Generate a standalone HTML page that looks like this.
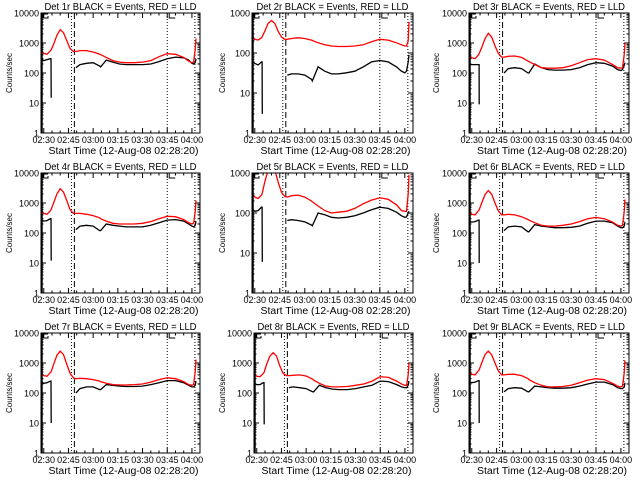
<!DOCTYPE html>
<html><head><meta charset="utf-8"><style>
html,body{margin:0;padding:0;background:#fff;}
svg{display:block;font-family:"Liberation Sans",sans-serif;}
</style></head><body>
<svg id="chart" width="640" height="480" viewBox="0 0 640 480" xmlns="http://www.w3.org/2000/svg">
<rect width="640" height="480" fill="#fff"/>
</svg>
<script>
// shared time grid (minutes since 02:30)
var times = [-1.7,0,2,4,4.4,4.5,6,8,10,12,14,16,18,19.5,22,26,30,34,34.5,38,42,46,50,55,60,65,70,75,80,85,88,90,91,92,92.5];
var xTickLabels = ["02:30","02:45","03:00","03:15","03:30","03:45","04:00"];
var xTickMinutes = [0,15,30,45,60,75,90];
var N = null;
var detNames = ["1r","2r","3r","4r","5r","6r","7r","8r","9r"];
var decades = [4,3,4,4,3,4,4,4,4];
var red1 = [600,450,420,550,580,600,900,1800,2800,2200,1200,650,520,520,560,560,500,420,410,330,260,230,220,220,230,260,350,440,420,330,250,220,230,600,1400];
var blk1 = [300,260,280,300,300,15,N,N,N,N,N,N,N,150,190,210,220,170,160,270,230,200,190,190,190,200,240,300,340,320,270,210,200,220,300];
var red2 = [270,220,210,240,250,260,350,550,650,550,350,250,220,220,230,240,230,210,205,180,160,150,145,145,150,160,190,220,210,180,160,150,150,200,600];
var blk2 = [65,55,50,60,60,3,N,N,N,N,N,N,N,28,30,30,28,22,20,45,35,30,30,32,35,45,60,65,60,45,35,32,35,60,90];
var red3 = [400,320,300,400,430,450,700,1400,2100,1600,800,450,340,340,360,370,330,250,240,190,150,145,145,150,175,220,280,300,270,190,150,145,150,400,1000];
var blk3 = [190,190,190,190,190,9,N,N,N,N,N,N,N,100,140,150,140,100,100,200,150,130,125,125,130,150,190,220,210,170,130,120,130,180,220];
var red4 = [600,450,420,550,600,620,1000,2000,3000,2300,1200,600,450,450,450,420,380,320,300,250,210,200,200,200,210,240,300,360,350,280,220,200,210,500,1200];
var blk4 = [280,250,260,300,300,12,N,N,N,N,N,N,N,130,170,180,170,120,120,200,180,170,160,160,160,180,220,270,280,250,200,170,160,180,250];
var red5 = [330,250,230,280,300,320,600,1200,1500,1200,600,330,260,250,270,280,250,200,190,150,115,100,105,110,130,170,210,240,220,160,115,110,110,300,900];
var blk5 = [130,110,115,140,140,6,N,N,N,N,N,N,N,65,68,65,60,50,48,100,90,78,75,78,85,100,120,140,130,105,85,78,80,100,110];
var red6 = [550,420,400,550,580,600,1000,1900,2600,2000,1000,550,400,400,420,400,350,280,270,220,180,170,170,180,200,240,300,330,300,230,180,170,180,500,1300];
var blk6 = [250,230,240,270,270,10,N,N,N,N,N,N,N,120,160,170,160,110,110,190,170,160,150,150,155,170,210,250,250,220,170,150,150,170,230];
var red7 = [500,380,360,480,500,520,900,1800,2500,1900,900,450,320,300,310,300,280,250,240,210,190,185,185,190,200,230,280,320,300,240,190,180,190,500,1300];
var blk7 = [240,210,220,250,250,10,N,N,N,N,N,N,N,100,140,160,160,130,130,190,180,170,165,165,170,190,220,260,260,220,180,160,160,180,250];
var red8 = [450,360,350,450,480,500,900,1700,2200,1700,800,450,380,380,390,400,370,290,270,210,170,160,160,165,180,200,250,350,330,250,200,180,180,400,1000];
var blk8 = [220,190,190,220,220,9,N,N,N,N,N,N,N,150,160,150,140,110,110,180,150,135,130,130,140,160,180,250,240,190,160,150,150,180,250];
var red9 = [550,420,400,550,580,600,1000,1900,2500,1900,1000,550,400,400,420,420,380,300,280,220,180,160,160,165,180,220,270,300,280,210,170,160,170,450,1200];
var blk9 = [240,220,230,260,260,10,N,N,N,N,N,N,N,110,140,150,145,110,110,170,160,150,145,145,150,170,200,230,230,190,150,140,140,160,220];
var reds = [red1,red2,red3,red4,red5,red6,red7,red8,red9];
var blks = [blk1,blk2,blk3,blk4,blk5,blk6,blk7,blk8,blk9];
var vLinesDot = [16.8,75,91.8];
var vLineDash = 18.6;

var svg = document.getElementById('chart');
var NS = 'http://www.w3.org/2000/svg';
function mk(tag, attrs, parent){
  var e = document.createElementNS(NS, tag);
  for (var k in attrs) e.setAttribute(k, attrs[k]);
  (parent||svg).appendChild(e);
  return e;
}
var T0 = -1.67, T1 = 94.9;

for (var p = 0; p < 9; p++) {
  var col = p % 3, row = Math.floor(p / 3);
  var ox = Math.round(col * 213.33), oy = row * 160;
  var nd = decades[p];
  var L = ox + (nd === 4 ? 41 : 39) + (col === 2 ? 1 : 0), R = ox + 200 + (col === 2 ? 2 : 0);
  var TOP = oy + 13, BOT = oy + 133;
  var g = mk('g', {});
  
  
  var xs = (function(L,R){return function(t){return L + (t - T0) / (T1 - T0) * (R - L);};})(L,R);
  var ys = (function(TOP,BOT,nd){return function(v){return BOT - Math.log10(v) / nd * (BOT - TOP);};})(TOP,BOT,nd);
  // clip
  var cp = mk('clipPath', {id: 'clip' + p}, g);
  mk('rect', {x: L, y: TOP, width: R - L, height: BOT - TOP}, cp);
  // title
  var tt = mk('text', {x: (L + R) / 2, y: oy + 10, 'font-size': 10, 'text-anchor': 'middle', textLength: 152, lengthAdjust: 'spacingAndGlyphs'}, g);
  tt.textContent = 'Det ' + detNames[p] + ' BLACK = Events, RED = LLD';
  
  
  // y ticks
  for (var d = 0; d <= nd; d++) {
    var yy = ys(Math.pow(10, d));
    mk('line', {x1: L, x2: L + 5, y1: yy, y2: yy, stroke: '#000', 'stroke-width': 1}, g);
    mk('line', {x1: R, x2: R - 5, y1: yy, y2: yy, stroke: '#000', 'stroke-width': 1}, g);
    var yl = mk('text', {x: L - 2, y: yy + 3.5, 'font-size': 9, 'text-anchor': 'end'}, g);
    yl.textContent = String(Math.pow(10, d));
    
    
    if (d < nd) for (var m = 2; m < 10; m++) {
      var ym = ys(m * Math.pow(10, d));
      mk('line', {x1: L, x2: L + 2.5, y1: ym, y2: ym, stroke: '#000', 'stroke-width': 1}, g);
      mk('line', {x1: R, x2: R - 2.5, y1: ym, y2: ym, stroke: '#000', 'stroke-width': 1}, g);
    }
  }
  // x ticks
  for (var i = 0; i < xTickMinutes.length; i++) {
    var xx = xs(xTickMinutes[i]);
    mk('line', {x1: xx, x2: xx, y1: BOT, y2: BOT - 5, stroke: '#000'}, g);
    mk('line', {x1: xx, x2: xx, y1: TOP, y2: TOP + 5, stroke: '#000'}, g);
    var xl = mk('text', {x: xx, y: BOT + 10, 'font-size': 9, 'text-anchor': 'middle'}, g);
    xl.textContent = xTickLabels[i];
    
    
  }
  for (var mm = 0; mm < 95; mm += 5) {
    if (mm % 15 === 0) continue;
    var xm = xs(mm);
    mk('line', {x1: xm, x2: xm, y1: BOT, y2: BOT - 2.5, stroke: '#000'}, g);
    mk('line', {x1: xm, x2: xm, y1: TOP, y2: TOP + 2.5, stroke: '#000'}, g);
  }
  var xt = mk('text', {x: (L + R) / 2 + 3, y: BOT + 21, 'font-size': 10, 'text-anchor': 'middle', textLength: 150, lengthAdjust: 'spacingAndGlyphs'}, g);
  xt.textContent = 'Start Time (12-Aug-08 02:28:20)';
  
  
  var yt = mk('text', {x: 0, y: 0, 'font-size': 8, 'text-anchor': 'middle', transform: 'translate(' + (ox + 12) + ',' + (oy + 73) + ') rotate(-90)'}, g);
  yt.textContent = 'Counts/sec';
  
  
  // vertical lines
  for (var v = 0; v < vLinesDot.length; v++) {
    var vx = xs(vLinesDot[v]);
    mk('line', {x1: vx, x2: vx, y1: TOP, y2: BOT, stroke: '#000', 'stroke-dasharray': '1,2'}, g);
  }
  var dx = xs(vLineDash);
  mk('line', {x1: dx, x2: dx, y1: TOP, y2: BOT, stroke: '#000', 'stroke-dasharray': '6,3'}, g);
  // S / E markers
  mk('path', {d: 'M' + (L + 2) + ' ' + (TOP + 5) + ' v-4 h5 M' + (L + 2) + ' ' + (TOP + 5) + ' h5 v-2', stroke: '#000', fill: 'none'}, g);
  var ex = xs(75) + 2;
  mk('path', {d: 'M' + (ex + 6) + ' ' + TOP + ' h-6 v5 h6', stroke: '#000', fill: 'none'}, g);
  // series
  function series(arr, color, name) {
    var d = '', pen = false;
    for (var k = 0; k < times.length; k++) {
      if (arr[k] === null) { pen = false; continue; }
      d += (pen ? 'L' : 'M') + xs(times[k]).toFixed(1) + ' ' + ys(arr[k]).toFixed(1);
      pen = true;
    }
    var pth = mk('path', {d: d, stroke: color, fill: 'none', 'stroke-width': 1.3, 'clip-path': 'url(#clip' + p + ')'}, g);
    
    
  }
  series(blks[p], '#000', 'events-line');
  series(reds[p], '#f00', 'lld-line');
  // frame
  mk('rect', {x: L, y: TOP, width: R - L, height: BOT - TOP, fill: 'none', stroke: '#000', 'stroke-width': 1}, g);
  mk('line', {x1: L + 1, x2: L + 1, y1: TOP, y2: BOT, stroke: '#000', 'stroke-width': 1.5}, g);
}
</script>
</body></html>
